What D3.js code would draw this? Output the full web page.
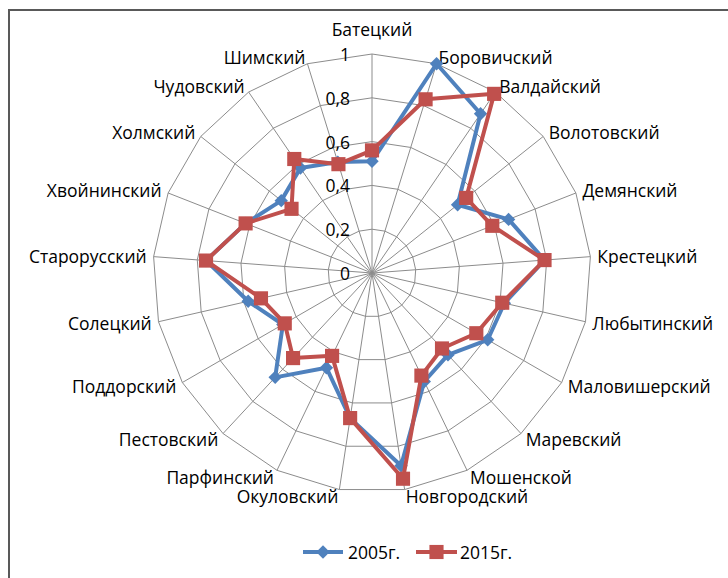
<!DOCTYPE html>
<html>
<head>
<meta charset="utf-8">
<script src="https://cdn.jsdelivr.net/npm/d3@7"></script>
<style>
  html, body { margin: 0; padding: 0; background: #fff; }
  svg { display: block; }
  text { font-family: "Open Sans", "Noto Sans", sans-serif; fill: #000; }
</style>
</head>
<body>
<svg id="chart" width="728" height="578"></svg>
<script>
const categories = ["Батецкий","Боровичский","Валдайский","Волотовский","Демянский","Крестецкий","Любытинский","Маловишерский","Маревский","Мошенской","Новгородский","Окуловский","Парфинский","Пестовский","Поддорский","Солецкий","Старорусский","Хвойнинский","Холмский","Чудовский","Шимский"];
const values2005 = [0.51, 1.00, 0.88, 0.50, 0.67, 0.79, 0.62, 0.61, 0.51, 0.55, 0.89, 0.67, 0.48, 0.65, 0.47, 0.58, 0.76, 0.62, 0.53, 0.58, 0.53];
const values2015 = [0.56, 0.83, 0.99, 0.55, 0.59, 0.79, 0.61, 0.55, 0.47, 0.52, 0.95, 0.67, 0.42, 0.53, 0.46, 0.52, 0.76, 0.62, 0.47, 0.63, 0.52];
const tickValues = [0, 0.2, 0.4, 0.6, 0.8, 1];
const tickLabels = ["0", "0,2", "0,4", "0,6", "0,8", "1"];
const seriesNames = ["2005г.", "2015г."];
const seriesColors = ["#4F81BD", "#C0504D"];

const svg = d3.select("#chart");
const W = 728, H = 578;
const cx = 372, cy = 273, R = 219;
const n = categories.length;
const fontSize = 17.5;

svg.append("rect").attr("width", W).attr("height", H).attr("fill", "#fff");
// frame
svg.append("path").attr("d", `M9,578 V10 H728`).attr("fill", "none")
  .attr("stroke", "#595959").attr("stroke-width", 2);

const r = d3.scaleLinear().domain([0, 1]).range([0, R]);
const ang = d3.scaleLinear().domain([0, n]).range([0, 2 * Math.PI]);

const g = svg.append("g").attr("transform", `translate(${cx},${cy})`);

// grid polygons
const gridLine = d3.lineRadial()
  .angle((d, i) => ang(i))
  .radius(d => r(d))
  .curve(d3.curveLinearClosed);
tickValues.filter(t => t > 0).forEach(t => {
  g.append("path").attr("d", gridLine(categories.map(() => t)))
    .attr("fill", "none").attr("stroke", "#8c8c8c").attr("stroke-width", 1);
});
// spokes
categories.forEach((c, i) => {
  const a = ang(i);
  g.append("line")
    .attr("x1", 0).attr("y1", 0)
    .attr("x2", r(1) * Math.sin(a)).attr("y2", -r(1) * Math.cos(a))
    .attr("stroke", "#8c8c8c").attr("stroke-width", 1);
});

// tick labels
tickValues.forEach((t, k) => {
  g.append("text").attr("x", -22).attr("y", -r(t))
    .attr("text-anchor", "end").attr("dominant-baseline", "central")
    .attr("font-size", fontSize).text(tickLabels[k]);
});

// category labels
categories.forEach((c, i) => {
  const a = ang(i);
  const s = Math.sin(a), co = Math.cos(a);
  const rr = r(1) + 7;
  const px = rr * s, py = -rr * co;
  const t = g.append("text").attr("font-size", fontSize).text(c);
  if (Math.abs(s) < 0.01) {
    t.attr("x", px).attr("y", py - 11).attr("text-anchor", "middle")
      .attr("dominant-baseline", "auto");
  } else {
    t.attr("x", px).attr("y", py)
      .attr("text-anchor", s > 0 ? "start" : "end")
      .attr("dominant-baseline", "central");
  }
});

// series
const seriesLine = d3.lineRadial()
  .angle((d, i) => ang(i))
  .radius(d => r(d))
  .curve(d3.curveLinearClosed);
const diamond = d3.symbol().type(d3.symbolSquare).size(90);
const square = d3.symbol().type(d3.symbolSquare).size(200);

[values2005, values2015].forEach((vals, si) => {
  g.append("path").attr("d", seriesLine(vals))
    .attr("fill", "none").attr("stroke", seriesColors[si])
    .attr("stroke-width", 4).attr("stroke-linejoin", "round");
  vals.forEach((v, i) => {
    const a = ang(i);
    const x = r(v) * Math.sin(a), y = -r(v) * Math.cos(a);
    g.append("path")
      .attr("d", si === 0 ? diamond() : square())
      .attr("transform", si === 0 ? `translate(${x},${y}) rotate(45)` : `translate(${x},${y})`)
      .attr("fill", seriesColors[si]);
  });
});

// legend
const legendY = 552;
const legendItems = [
  { x1: 303, x2: 343, tx: 348 },
  { x1: 416, x2: 457, tx: 460 }
];
legendItems.forEach((it, si) => {
  svg.append("line").attr("x1", it.x1).attr("x2", it.x2)
    .attr("y1", legendY).attr("y2", legendY)
    .attr("stroke", seriesColors[si]).attr("stroke-width", 4);
  const mx = (it.x1 + it.x2) / 2;
  svg.append("path")
    .attr("d", si === 0 ? diamond() : square())
    .attr("transform", si === 0 ? `translate(${mx},${legendY}) rotate(45)` : `translate(${mx},${legendY})`)
    .attr("fill", seriesColors[si]);
  svg.append("text").attr("x", it.tx).attr("y", legendY)
    .attr("dominant-baseline", "central").attr("font-size", fontSize)
    .text(seriesNames[si]);
});
</script>
</body>
</html>
